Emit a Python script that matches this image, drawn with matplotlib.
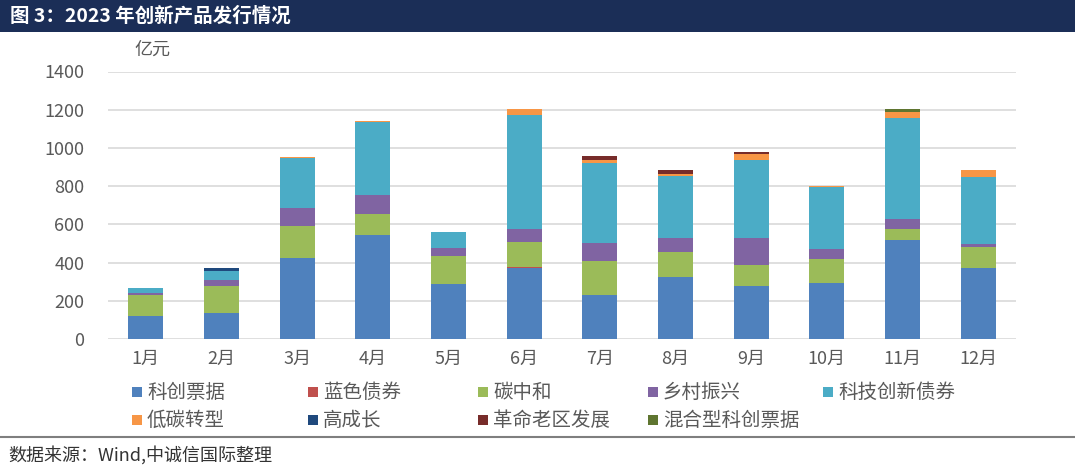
import matplotlib
matplotlib.use("Agg")
import matplotlib.pyplot as plt
import matplotlib.patches as patches
import numpy as np

plt.rcParams['font.family'] = ['Noto Sans CJK SC', 'DejaVu Sans']

# Data (亿元)
months = ['1月', '2月', '3月', '4月', '5月', '6月', '7月', '8月', '9月', '10月', '11月', '12月']
series_names = ['科创票据', '蓝色债券', '碳中和', '乡村振兴', '科技创新债券',
                '低碳转型', '高成长', '革命老区发展', '混合型科创票据']
kechuang = [120, 135, 423, 542, 290, 370, 231, 325, 278, 292, 519, 370]
lanse = [0, 0, 0, 0, 0, 8, 0, 0, 0, 0, 0, 0]
tanzhonghe = [108, 143, 170, 113, 142, 131, 176, 130, 110, 126, 56, 109]
xiangcun = [12, 31, 90, 98, 45, 68, 98, 73, 140, 52, 52, 19]
keji = [26, 49, 265, 383, 82, 594, 416, 327, 410, 325, 530, 348]
ditan = [0, 0, 3, 5, 0, 33, 17, 10, 30, 5, 31, 36]
gaochengzhang = [0, 11, 0, 0, 0, 0, 0, 0, 0, 0, 0, 0]
geming = [0, 0, 0, 0, 0, 0, 21, 21, 11, 0, 0, 0]
hunhe = [0, 0, 0, 0, 0, 0, 0, 0, 0, 0, 17, 0]

colors = ['#4F81BD', '#C0504D', '#9BBB59', '#8064A2', '#4BACC6',
          '#F79646', '#1F497D', '#772C2A', '#5F7530']

W, H = 1075, 471
fig = plt.figure(figsize=(W / 100, H / 100), dpi=100)

# title bar
fig.patches.append(patches.Rectangle((0, 1 - 32 / H), 1, 32 / H, transform=fig.transFigure,
                                     facecolor='#1B2E57', edgecolor='none'))
fig.text(10 / W, 1 - 16 / H, '图 3：2023 年创新产品发行情况', color='white',
         fontsize=14, fontweight='bold', va='center', ha='left')

ax = fig.add_axes([108 / W, 1 - 339 / H, (1016 - 108) / W, (339 - 71.5) / H])
data = [kechuang, lanse, tanzhonghe, xiangcun, keji, ditan, gaochengzhang, geming, hunhe]
x = np.arange(len(months))
bottom = np.zeros(len(months))
for vals, c, name in zip(data, colors, series_names):
    ax.bar(x, vals, 0.46, bottom=bottom, color=c, label=name, zorder=3)
    bottom += np.array(vals)

ax.set_xlim(-0.5, len(months) - 0.5)
ax.set_ylim(0, 1400)
ax.set_yticks(range(0, 1401, 200))
ax.set_xticks(x)
ax.set_xticklabels(months)
ax.tick_params(axis='both', length=0, labelsize=13, colors='#595959')
ax.tick_params(axis='y', pad=17)
ax.tick_params(axis='x', pad=8)
ax.grid(axis='y', color='#D9D9D9', linewidth=1.2, zorder=0)
for s in ax.spines.values():
    s.set_visible(False)

fig.text(134 / W, 1 - 50 / H, '亿元', fontsize=13, color='#595959', va='center')

# legend, laid out like the Excel one
col_x = [137, 313, 483, 653, 828]
row_y = [392, 420]
for i, (name, c) in enumerate(zip(series_names, colors)):
    cx = col_x[i % 5]
    cy = row_y[i // 5]
    fig.patches.append(patches.Rectangle(((cx - 5) / W, 1 - (cy + 5) / H), 10 / W, 10 / H,
                                         transform=fig.transFigure, facecolor=c, edgecolor='none'))
    fig.text((cx + 10) / W, 1 - cy / H, name, fontsize=14, color='#595959', va='center')

# bottom rule and source
fig.add_artist(plt.Line2D([0, 1], [1 - 437 / H, 1 - 437 / H], transform=fig.transFigure,
                          color='#7F7F7F', linewidth=1.5))
fig.text(8 / W, 1 - 455 / H, '数据来源：Wind,中诚信国际整理', fontsize=13, color='#333333', va='center')

fig.savefig('out.png', dpi=100)
